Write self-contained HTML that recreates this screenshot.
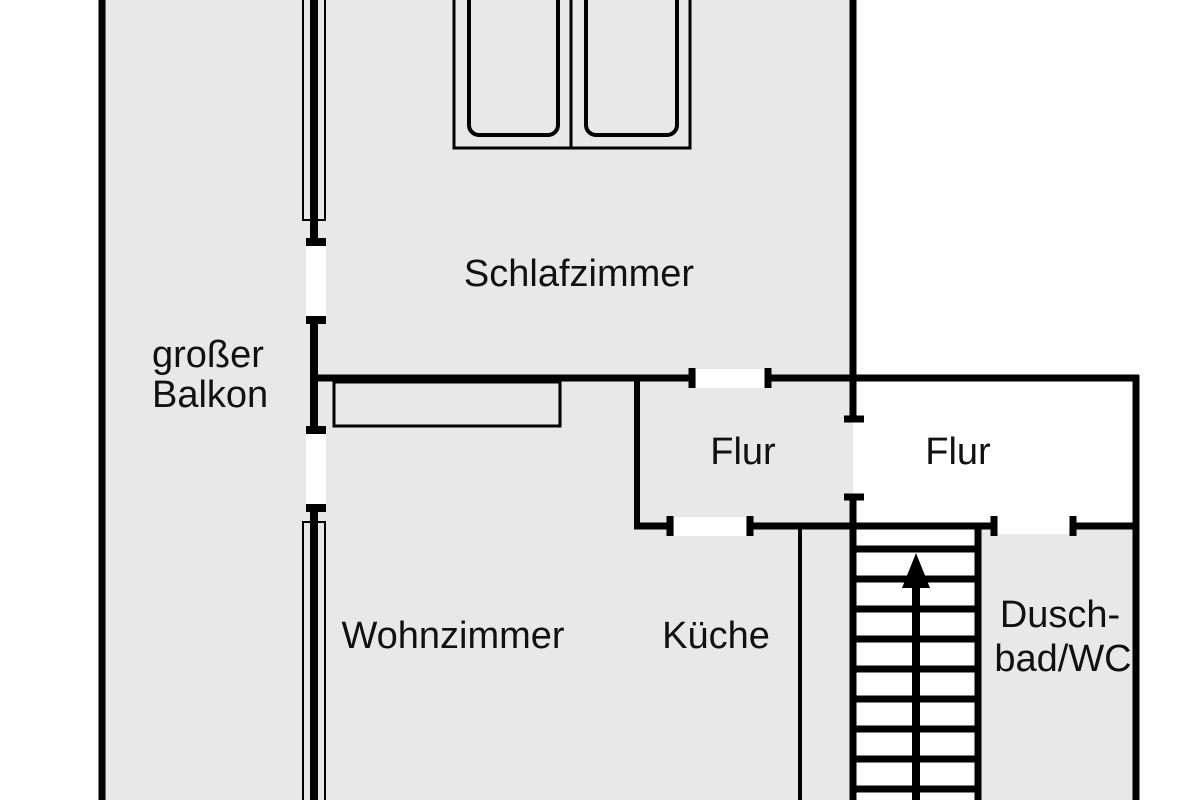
<!DOCTYPE html>
<html><head><meta charset="utf-8"><style>
html,body{margin:0;padding:0;background:#fff;}
svg{display:block;}
text{font-family:"Liberation Sans",Arial,sans-serif;font-size:38px;fill:#111;}
</style></head><body>
<svg width="1200" height="800" viewBox="0 0 1200 800" xmlns="http://www.w3.org/2000/svg">
<rect width="1200" height="800" fill="#fff"/>
<rect x="102" y="0" width="751" height="800" fill="#e8e8e8"/>
<rect x="853" y="378" width="283" height="148" fill="#fff"/>
<rect x="853" y="526" width="125" height="274" fill="#fff"/>
<rect x="978" y="526" width="158" height="274" fill="#e8e8e8"/>
<!-- white openings -->
<rect x="306" y="246" width="20" height="70" fill="#fff"/>
<rect x="306" y="434" width="20" height="70" fill="#fff"/>
<rect x="696" y="369" width="70" height="19" fill="#fff"/>
<rect x="674" y="517" width="72" height="19" fill="#fff"/>
<rect x="997" y="517" width="72" height="17" fill="#fff"/>
<g stroke="#000" fill="none">
<line x1="102" y1="0" x2="102" y2="800" stroke-width="7"/>
<line x1="853" y1="0" x2="853" y2="420" stroke-width="7"/>
<line x1="853" y1="497" x2="853" y2="800" stroke-width="7"/>
<line x1="844" y1="419" x2="864" y2="419" stroke-width="7"/>
<line x1="844" y1="497" x2="864" y2="497" stroke-width="7"/>
<rect x="303" y="-2" width="22" height="222" stroke-width="2"/>
<line x1="314" y1="0" x2="314" y2="242" stroke-width="8"/>
<line x1="306" y1="242" x2="326" y2="242" stroke-width="8"/>
<line x1="306" y1="320" x2="326" y2="320" stroke-width="8"/>
<line x1="314" y1="320" x2="314" y2="430" stroke-width="8"/>
<line x1="306" y1="430" x2="326" y2="430" stroke-width="8"/>
<line x1="306" y1="508" x2="326" y2="508" stroke-width="8"/>
<line x1="314" y1="508" x2="314" y2="800" stroke-width="8"/>
<rect x="303" y="522" width="22" height="290" stroke-width="2"/>
<line x1="314" y1="378" x2="692" y2="378" stroke-width="7"/>
<line x1="692" y1="368" x2="692" y2="388" stroke-width="7"/>
<line x1="768" y1="368" x2="768" y2="388" stroke-width="7"/>
<line x1="768" y1="378" x2="1139" y2="378" stroke-width="7"/>
<rect x="334" y="382" width="226" height="44" stroke-width="3"/>
<rect x="454" y="-2" width="236" height="150" stroke-width="3"/>
<line x1="571" y1="0" x2="571" y2="148" stroke-width="3"/>
<rect x="469" y="-10" width="89" height="145" rx="10" stroke-width="4"/>
<rect x="586" y="-10" width="91" height="145" rx="10" stroke-width="4"/>
<line x1="637" y1="378" x2="637" y2="526" stroke-width="6"/>
<line x1="634" y1="526" x2="670" y2="526" stroke-width="7"/>
<line x1="670" y1="516" x2="670" y2="536" stroke-width="7"/>
<line x1="750" y1="516" x2="750" y2="536" stroke-width="7"/>
<line x1="750" y1="526" x2="994" y2="526" stroke-width="7"/>
<line x1="994" y1="516" x2="994" y2="536" stroke-width="7"/>
<line x1="1073" y1="516" x2="1073" y2="536" stroke-width="7"/>
<line x1="1073" y1="526" x2="1136" y2="526" stroke-width="7"/>
<line x1="1136" y1="375" x2="1136" y2="800" stroke-width="7"/>
<line x1="800" y1="526" x2="800" y2="800" stroke-width="4"/>
<line x1="978" y1="526" x2="978" y2="800" stroke-width="7"/>
<g stroke-width="7">
<line x1="853" y1="549" x2="978" y2="549"/>
<line x1="853" y1="579" x2="978" y2="579"/>
<line x1="853" y1="609" x2="978" y2="609"/>
<line x1="853" y1="639" x2="978" y2="639"/>
<line x1="853" y1="669" x2="978" y2="669"/>
<line x1="853" y1="699" x2="978" y2="699"/>
<line x1="853" y1="729" x2="978" y2="729"/>
<line x1="853" y1="759" x2="978" y2="759"/>
<line x1="853" y1="789" x2="978" y2="789"/>
</g>
<line x1="916" y1="580" x2="916" y2="800" stroke-width="8"/>
</g>
<polygon points="916,553 902,588 930,588" fill="#000"/>
<text x="579" y="286" text-anchor="middle">Schlafzimmer</text>
<text x="152" y="367">großer</text>
<text x="152" y="407">Balkon</text>
<text x="743" y="464" text-anchor="middle">Flur</text>
<text x="958" y="464" text-anchor="middle">Flur</text>
<text x="453" y="648" text-anchor="middle">Wohnzimmer</text>
<text x="716" y="648" text-anchor="middle">Küche</text>
<text x="1060" y="627" text-anchor="middle">Dusch-</text>
<text x="1063" y="671" text-anchor="middle">bad/WC</text>
</svg>
</body></html>
